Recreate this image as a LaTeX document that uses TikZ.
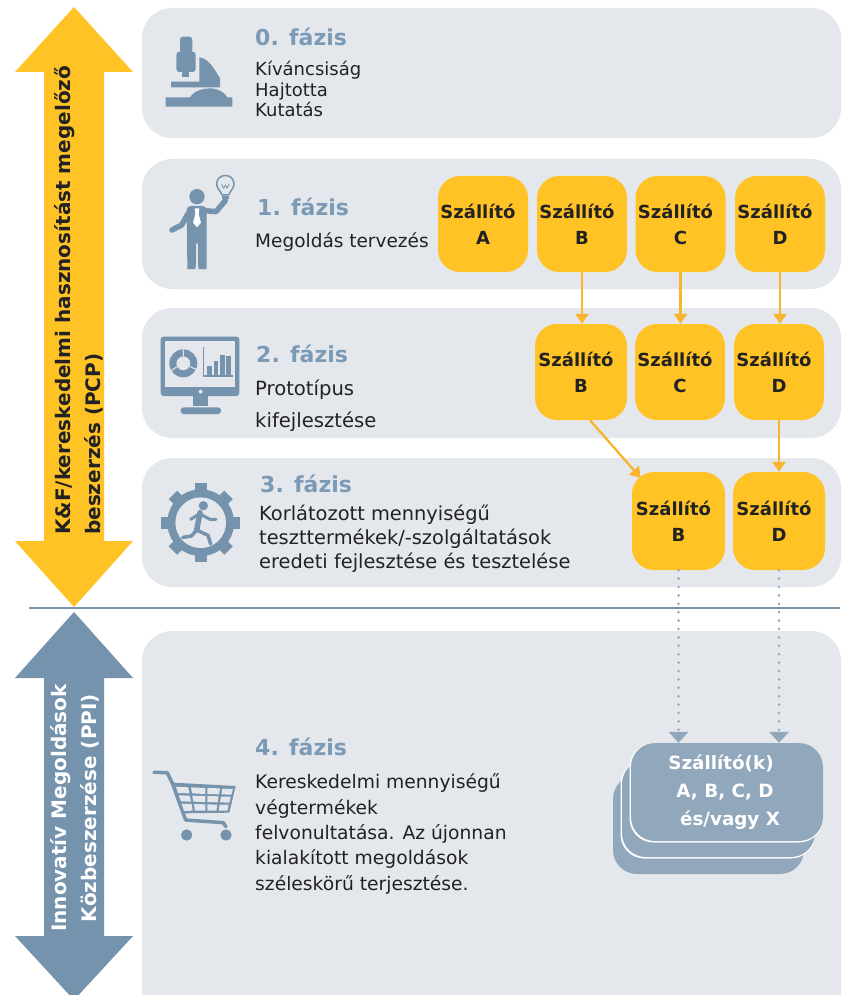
\documentclass[tikz,border=0pt]{standalone}
\usepackage{fontspec}
\setmainfont{DejaVu Sans}
\usetikzlibrary{arrows.meta}
\definecolor{panel}{HTML}{E4E7EC}
\definecolor{steel}{HTML}{7593AC}
\definecolor{titleblue}{HTML}{7B9AB5}
\definecolor{amber}{HTML}{FFC325}
\definecolor{amberline}{HTML}{F9B42E}
\definecolor{pale}{HTML}{91A7BC}
\definecolor{ink}{HTML}{222222}
\tikzset{
  x=1pt,y=-1pt,
  phase/.style={fill=panel,rounded corners=30pt},
  ttl/.style={anchor=base west,inner sep=0,text=titleblue,font=\fontsize{22}{22}\selectfont\bfseries},
  body/.style={anchor=base west,inner sep=0,text=ink,font=\fontsize{#1}{20}\selectfont},
  body/.default=18.5,
  supplier/.style={fill=amber,rounded corners=22pt,minimum width=90pt,minimum height=96pt,inner sep=0,align=center,font=\fontsize{18}{26}\selectfont\bfseries,text=ink},
  flow/.style={draw=amberline,line width=2.3pt,-{Triangle[width=13pt,length=10pt]}},
  dots/.style={draw=pale,line width=2.8pt,line cap=round,dash pattern=on 0pt off 8.4pt,-{Triangle[width=20pt,length=11pt,fill=pale,line width=0pt]}},
  stack/.style={fill=pale,rounded corners=24pt},
  stackedge/.style={fill=white,rounded corners=24pt},
  sidelabel/.style={rotate=90,inner sep=0,align=left,font=\fontsize{20}{30}\selectfont\bfseries,text=ink},
  icon/.style={fill=steel,draw=none},
  iconline/.style={draw=steel,line cap=round,line join=round},
}
\newcommand{\szall}{Szállító\hspace*{10pt}}
\begin{document}
\begin{tikzpicture}
\useasboundingbox (0,0) rectangle (843,995);
\fill[white] (0,0) rectangle (843,995);
% panels
\fill[phase] (142,8) rectangle (841,138);
\fill[phase] (142,159) rectangle (841,289);
\fill[phase] (142,308) rectangle (841,438);
\fill[phase] (142,458) rectangle (841,587);
\fill[phase] (142,631) rectangle (841,1030);
% side arrows
\fill[amber] (74,7) -- (133,72) -- (104,72) -- (104,541) -- (133,541) -- (74,607) -- (15,541) -- (44,541) -- (44,72) -- (15,72) -- cycle;
\fill[steel] (74,612) -- (133,678) -- (104,678) -- (104,936) -- (133,936) -- (74,1000) -- (15,936) -- (44,936) -- (44,678) -- (15,678) -- cycle;
\draw[draw=steel,line width=1.6pt] (29,608) -- (840,608);
\node[sidelabel,anchor=south west] (pcp) at (103.5,535) {K\&F/kereskedelmi hasznosítást megelőző\\beszerzés (PCP)};
\node[sidelabel,text=white,align=center] (ppi) at (75,808) {Innovatív Megoldások\\Közbeszerzése (PPI)};
% phase text
\node[ttl] (t0) at (255,46) {0. fázis};
\node[body=18] (b0a) at (255,76) {Kíváncsiság};
\node[body=18] (b0b) at (255,97) {Hajtotta};
\node[body=18] (b0c) at (255,117) {Kutatás};
\node[ttl] (t1) at (257,215) {1. fázis};
\node[body=18.5] (b1) at (255,247) {Megoldás tervezés};
\node[ttl] (t2) at (256,362) {2. fázis};
\node[body=19.6] (b2a) at (255,395) {Prototípus};
\node[body=19.6] (b2b) at (255,427) {kifejlesztése};
\node[ttl] (t3) at (260,492) {3. fázis};
\node[body=19.4] (b3a) at (259,520) {Korlátozott mennyiségű};
\node[body=19.4] (b3b) at (259,544) {teszttermékek/-szolgáltatások};
\node[body=19.4] (b3c) at (259,568) {eredeti fejlesztése és tesztelése};
\node[ttl] (t4) at (255,755) {4. fázis};
\node[body=18.7] (b4a) at (255,788) {Kereskedelmi mennyiségű};
\node[body=18.7] (b4b) at (255,814) {végtermékek};
\node[body=18.7] (b4c) at (255,839) {felvonultatása. Az újonnan};
\node[body=18.7] (b4d) at (255,864) {kialakított megoldások};
\node[body=18.7] (b4e) at (255,890) {széleskörű terjesztése.};
% suppliers
\node[supplier] (a1) at (483,224) {\szall\\A};
\node[supplier] (b1s) at (582,224) {\szall\\B};
\node[supplier] (c1) at (680.5,224) {\szall\\C};
\node[supplier] (d1) at (780,224) {\szall\\D};
\node[supplier,minimum width=92pt] (b2s) at (581,372) {\szall\\B};
\node[supplier] (c2) at (680,372) {\szall\\C};
\node[supplier] (d2) at (779,372) {\szall\\D};
\node[supplier,minimum width=93pt,minimum height=98pt] (b3s) at (678.5,521) {\szall\\B};
\node[supplier,minimum width=92pt,minimum height=98pt] (d3) at (779,521) {\szall\\D};
% final stack
\fill[stack] (613,775) rectangle (804,874);
\fill[stackedge] (620.5,760) rectangle (815,858.5);
\fill[stack] (622,760) rectangle (815,857);
\fill[stackedge] (629.5,743) rectangle (823,842.5);
\node[stack,minimum width=192pt,minimum height=98pt,inner sep=0,align=center,text=white,font=\fontsize{18.3}{28}\selectfont\bfseries] (s4) at (727,792) {Szállító(k)\hspace*{12pt}\\\hspace*{-4pt}A, B, C, D\\\hspace*{6pt}és/vagy X};
% connectors
\draw[flow] (b1s.south) -- (b1s.south |- b2s.north);
\draw[flow] (c1.south) -- (c1.south |- c2.north);
\draw[flow] (d1.south) -- (d1.south |- d2.north);
\draw[flow] ([xshift=9pt]b2s.south) -- ([xshift=-38pt,yshift=-6pt]b3s.north);
\draw[flow] (d2.south -| d3.north) -- (d3.north);
\draw[dots] (b3s.south) -- (b3s.south |- s4.north);
\draw[dots] (d3.south) -- (d3.south |- s4.north);
% microscope
\begin{scope}[shift={(140,0)},scale=1/3]
\fill[icon,rounded corners=3pt] (120,110) rectangle (157,160);
\fill[icon,rounded corners=3pt] (109,155) rectangle (167,216);
\fill[icon] (127,215) rectangle (148,232);
\fill[icon] (178,172) .. controls (205,175) and (222,205) .. (240,235) -- (240,262) -- (93,262) -- (93,245) -- (178,245) -- cycle;
\fill[icon] (77,292) -- (150,292) .. controls (165,270) and (190,265) .. (212,265) .. controls (235,266) and (255,278) .. (262,292) -- (277,292) -- (277,320) -- (77,320) -- cycle;
\end{scope}
% person with bulb
\begin{scope}[shift={(140,0)},scale=1/3]
\fill[icon] (171,590) circle[radius=23];
\fill[icon,rounded corners=4pt] (140,618) -- (200,618) -- (200,795) .. controls (200,808) and (176,808) .. (174,795) -- (174,722) -- (168,722) -- (168,795) .. controls (166,808) and (142,808) .. (142,795) -- cycle;
\draw[iconline,line width=5.5pt] (145,640) -- (125,675) -- (96,690);
\draw[iconline,line width=5.5pt] (195,632) -- (228,635) -- (256,602);
\fill[white] (164,625) -- (178,625) -- (176,642) -- (183,668) -- (171,682) -- (159,668) -- (166,642) -- cycle;
\draw[iconline,line width=1.5pt] (246,585) .. controls (240,570) and (230,565) .. (230,552) .. controls (230,518) and (282,518) .. (282,552) .. controls (282,565) and (272,570) .. (266,585) -- cycle;
\draw[iconline,line width=.8pt] (245,553) -- (251,565) -- (256,555) -- (261,565) -- (267,553);
\fill[icon] (245,588) rectangle (267,598);
\end{scope}
% monitor
\begin{scope}[shift={(140,300)},scale=1/3]
\fill[icon,rounded corners=3pt] (62,110) rectangle (298,288);
\fill[panel] (75,122) rectangle (285,262);
\fill[panel] (182,275) circle[radius=6];
\fill[icon] (160,288) rectangle (205,318);
\fill[icon,rounded corners=3pt] (122,342) -- (122,322) -- (243,322) -- (243,342) -- cycle;
\fill[icon,even odd rule] (130,190) circle[radius=42] (130,190) circle[radius=21];
\draw[panel,line width=1pt] (130,169) -- (130,148) (148,199) -- (168,208) (112,199) -- (94,212);
\draw[iconline,line width=1.2pt,line cap=butt] (190,140) -- (190,228) -- (280,228);
\fill[icon] (200,197) rectangle (216,225);
\fill[icon] (221,183) rectangle (235,225);
\fill[icon] (240,165) rectangle (255,225);
\fill[icon] (259,169) rectangle (273,225);
\end{scope}
% gear with runner
\begin{scope}[shift={(200.7,522.7)},scale=1/3]
\fill[icon] (0,0) circle[radius=100];
\foreach \a in {0,45,...,315}{\fill[icon,rotate=\a] (-18,-118) rectangle (18,-90);}
\fill[panel] (0,0) circle[radius=76];
\fill[icon] (8,-51) circle[radius=14];
\draw[iconline,line width=5.5pt] (-2,-30) -- (-12,22);
\draw[iconline,line width=3pt] (-2,-28) -- (-30,-10);
\draw[iconline,line width=3pt] (0,-25) -- (28,-10) -- (46,-10);
\draw[iconline,line width=3.5pt] (-12,22) -- (22,38) -- (30,64);
\draw[iconline,line width=3.5pt] (-12,22) -- (-28,40) -- (-54,44);
\end{scope}
% cart
\begin{scope}[shift={(140,760)},scale=1/3]
\draw[iconline,line width=3.5pt] (42,37) -- (82,38) -- (98,72) -- (137,180) -- (250,188) -- (258,200);
\fill[icon] (100,68) -- (287,78) -- (268,158) -- (128,160) -- cycle;
\fill[panel] (108,80) -- (145,82) -- (148,100) -- (114,99) -- cycle;
\fill[panel] (153,82) -- (196,84) -- (196,102) -- (156,100) -- cycle;
\fill[panel] (202,84) -- (240,85) -- (237,103) -- (202,102) -- cycle;
\fill[panel] (247,86) -- (279,87) -- (274,104) -- (244,103) -- cycle;
\fill[panel] (116,106) -- (149,107) -- (153,125) -- (123,124) -- cycle;
\fill[panel] (157,107) -- (196,108) -- (196,126) -- (160,125) -- cycle;
\fill[panel] (202,108) -- (236,109) -- (233,127) -- (202,126) -- cycle;
\fill[panel] (243,110) -- (272,110) -- (268,128) -- (240,127) -- cycle;
\fill[panel] (125,131) -- (155,132) -- (158,152) -- (132,153) -- cycle;
\fill[panel] (162,132) -- (196,133) -- (196,152) -- (165,152) -- cycle;
\fill[panel] (202,133) -- (232,134) -- (229,152) -- (202,152) -- cycle;
\fill[panel] (239,134) -- (266,134) -- (262,152) -- (236,152) -- cycle;
\fill[icon] (140,225) circle[radius=17];
\fill[icon] (258,225) circle[radius=17];
\end{scope}
\end{tikzpicture}
\end{document}
